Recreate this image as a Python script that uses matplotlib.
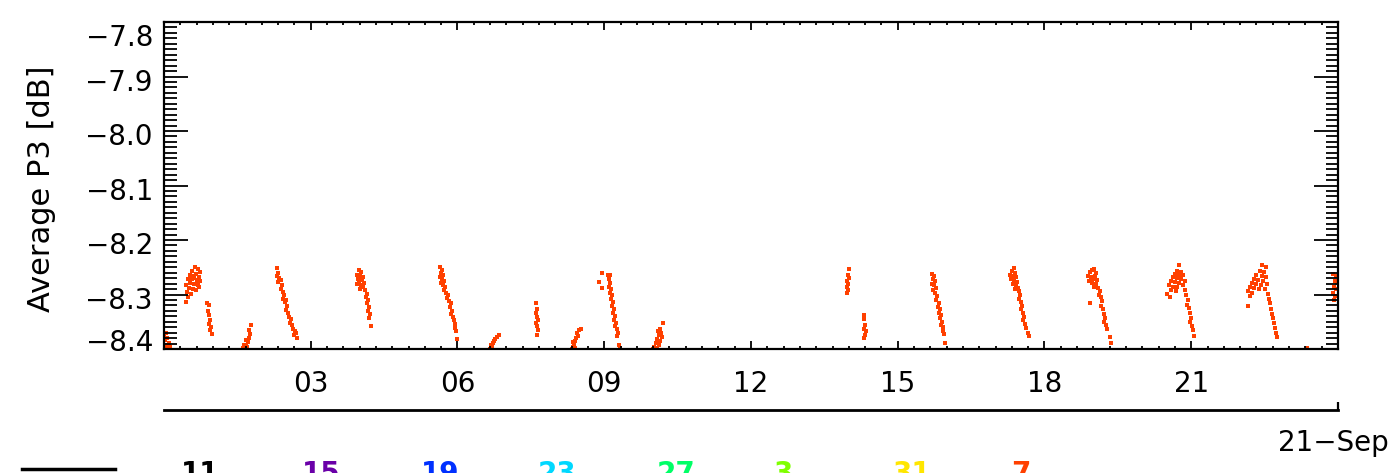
import numpy as np
from matplotlib import pyplot as plt
from matplotlib.lines import Line2D
from matplotlib.transforms import ScaledTranslation

"""
    Dados: (hora do dia, P3 medio em dB), lidos do grafico
"""

pass01 = [(0.00, -8.376), (0.02, -8.383), (0.04, -8.393), (0.06, -8.380), (0.08, -8.398),
          (0.02, -8.400), (0.10, -8.389), (0.12, -8.396), (0.04, -8.370)]
pass02 = [(0.63, -8.250), (0.70, -8.253), (0.57, -8.257), (0.74, -8.259), (0.65, -8.262),
          (0.53, -8.264), (0.61, -8.266), (0.72, -8.268), (0.49, -8.272), (0.57, -8.272),
          (0.67, -8.273), (0.74, -8.275), (0.53, -8.279), (0.61, -8.281), (0.45, -8.283),
          (0.70, -8.283), (0.51, -8.288), (0.59, -8.290), (0.47, -8.295), (0.55, -8.299),
          (0.49, -8.305), (0.45, -8.314), (0.65, -8.292), (0.72, -8.286), (0.59, -8.270),
          (0.68, -8.279)]
pass03 = [(0.88, -8.316), (0.92, -8.320), (0.90, -8.330), (0.92, -8.338), (0.94, -8.347),
          (0.92, -8.355), (0.96, -8.360), (0.94, -8.365), (0.98, -8.372)]
pass04 = [(1.61, -8.398), (1.65, -8.400), (1.67, -8.393), (1.70, -8.396), (1.72, -8.387),
          (1.68, -8.383), (1.74, -8.380), (1.76, -8.372), (1.74, -8.366), (1.78, -8.356),
          (1.63, -8.392)]
pass05 = [(2.31, -8.251), (2.33, -8.260), (2.31, -8.266), (2.35, -8.270), (2.33, -8.277),
          (2.39, -8.273), (2.41, -8.283), (2.39, -8.290), (2.43, -8.295), (2.45, -8.301),
          (2.43, -8.308), (2.47, -8.314), (2.49, -8.310), (2.51, -8.321), (2.49, -8.329),
          (2.53, -8.334), (2.55, -8.341), (2.59, -8.345), (2.57, -8.352), (2.61, -8.356),
          (2.63, -8.363), (2.67, -8.367), (2.65, -8.374), (2.70, -8.370), (2.72, -8.380)]
pass06 = [(3.99, -8.255), (4.03, -8.259), (3.95, -8.264), (4.01, -8.266), (4.07, -8.268),
          (3.97, -8.272), (4.05, -8.273), (3.99, -8.277), (4.09, -8.279), (3.95, -8.281),
          (4.03, -8.283), (4.07, -8.286), (4.01, -8.290), (4.11, -8.292), (4.15, -8.299),
          (4.13, -8.305), (4.17, -8.310), (4.15, -8.316), (4.19, -8.323), (4.17, -8.330),
          (4.21, -8.336), (4.19, -8.343), (4.23, -8.358)]
pass07 = [(5.64, -8.250), (5.68, -8.255), (5.66, -8.261), (5.70, -8.264), (5.64, -8.268),
          (5.68, -8.272), (5.72, -8.275), (5.66, -8.279), (5.70, -8.283), (5.74, -8.286),
          (5.72, -8.292), (5.76, -8.297), (5.81, -8.301), (5.78, -8.306), (5.83, -8.312),
          (5.87, -8.316), (5.85, -8.323), (5.89, -8.330), (5.87, -8.336), (5.91, -8.341),
          (5.93, -8.347), (5.95, -8.354), (5.95, -8.361), (5.97, -8.367), (5.99, -8.382)]
pass08 = [(6.66, -8.400), (6.70, -8.396), (6.68, -8.392), (6.72, -8.389), (6.74, -8.385),
          (6.76, -8.381), (6.80, -8.378), (6.85, -8.375), (6.70, -8.400)]
pass09 = [(7.60, -8.316), (7.62, -8.327), (7.60, -8.334), (7.62, -8.341), (7.64, -8.347),
          (7.60, -8.352), (7.62, -8.358), (7.64, -8.365), (7.62, -8.374)]
pass10 = [(8.34, -8.400), (8.36, -8.396), (8.38, -8.390), (8.40, -8.385), (8.42, -8.380),
          (8.46, -8.376), (8.44, -8.370), (8.48, -8.365), (8.52, -8.363), (8.40, -8.398),
          (8.36, -8.387)]
pass11 = [(8.95, -8.261), (8.89, -8.277), (8.95, -8.288), (9.08, -8.264), (9.12, -8.264),
          (9.10, -8.272), (9.12, -8.279), (9.10, -8.286), (9.14, -8.290), (9.12, -8.297),
          (9.16, -8.301), (9.14, -8.308), (9.18, -8.314), (9.16, -8.321), (9.20, -8.327),
          (9.18, -8.334), (9.22, -8.339), (9.20, -8.347), (9.24, -8.352), (9.22, -8.358),
          (9.26, -8.363), (9.28, -8.370), (9.26, -8.376), (9.30, -8.392), (9.32, -8.398)]
pass12 = [(10.20, -8.352), (10.14, -8.363), (10.10, -8.367), (10.16, -8.370), (10.12, -8.374),
          (10.18, -8.378), (10.08, -8.381), (10.14, -8.385), (10.06, -8.389), (10.12, -8.392),
          (10.02, -8.396), (10.08, -8.398), (10.00, -8.400)]
pass13 = [(14.00, -8.253), (13.98, -8.264), (14.00, -8.270), (13.96, -8.275), (13.98, -8.281),
          (13.96, -8.286), (13.98, -8.292), (13.96, -8.297)]
pass14 = [(14.31, -8.338), (14.31, -8.345), (14.33, -8.356), (14.31, -8.363), (14.35, -8.367),
          (14.33, -8.374), (14.31, -8.380)]
pass15 = [(15.70, -8.262), (15.74, -8.266), (15.72, -8.272), (15.76, -8.275), (15.70, -8.281),
          (15.74, -8.283), (15.78, -8.288), (15.72, -8.292), (15.76, -8.297), (15.80, -8.303),
          (15.78, -8.310), (15.84, -8.316), (15.82, -8.323), (15.86, -8.327), (15.84, -8.334),
          (15.88, -8.338), (15.86, -8.343), (15.90, -8.350), (15.88, -8.356), (15.92, -8.360),
          (15.92, -8.367), (15.94, -8.372), (15.96, -8.389)]
pass16 = [(17.37, -8.251), (17.33, -8.257), (17.39, -8.261), (17.29, -8.264), (17.35, -8.266),
          (17.41, -8.268), (17.31, -8.272), (17.37, -8.273), (17.43, -8.277), (17.35, -8.281),
          (17.41, -8.283), (17.45, -8.288), (17.39, -8.290), (17.47, -8.294), (17.49, -8.301),
          (17.47, -8.308), (17.51, -8.314), (17.54, -8.321), (17.52, -8.327), (17.56, -8.334),
          (17.58, -8.341), (17.56, -8.347), (17.60, -8.354), (17.62, -8.361), (17.66, -8.370),
          (17.68, -8.376)]
pass17 = [(18.97, -8.255), (19.01, -8.253), (18.93, -8.259), (19.05, -8.261), (18.89, -8.266),
          (18.95, -8.268), (19.03, -8.266), (18.99, -8.272), (19.07, -8.273), (18.91, -8.275),
          (18.97, -8.279), (19.05, -8.281), (19.01, -8.286), (19.09, -8.288), (19.13, -8.294),
          (19.11, -8.301), (19.15, -8.305), (18.93, -8.316), (19.17, -8.312), (19.15, -8.321),
          (19.19, -8.327), (19.21, -8.336), (19.23, -8.343), (19.21, -8.350), (19.25, -8.356),
          (19.27, -8.363), (19.34, -8.378), (19.36, -8.389)]
pass18 = [(20.75, -8.246), (20.71, -8.257), (20.79, -8.259), (20.67, -8.262), (20.75, -8.264),
          (20.83, -8.264), (20.63, -8.268), (20.71, -8.270), (20.79, -8.272), (20.59, -8.275),
          (20.67, -8.277), (20.75, -8.279), (20.87, -8.275), (20.55, -8.283), (20.63, -8.286),
          (20.71, -8.286), (20.83, -8.283), (20.59, -8.292), (20.69, -8.294), (20.51, -8.299),
          (20.87, -8.292), (20.57, -8.305), (20.89, -8.301), (20.93, -8.310), (20.91, -8.319),
          (20.95, -8.325), (20.97, -8.334), (20.99, -8.343), (20.97, -8.350), (21.01, -8.358),
          (21.03, -8.365), (21.05, -8.376)]
pass19 = [(22.44, -8.246), (22.53, -8.250), (22.40, -8.257), (22.49, -8.259), (22.32, -8.264),
          (22.44, -8.266), (22.53, -8.268), (22.28, -8.272), (22.36, -8.273), (22.47, -8.275),
          (22.24, -8.279), (22.32, -8.281), (22.42, -8.283), (22.55, -8.281), (22.20, -8.286),
          (22.28, -8.288), (22.38, -8.290), (22.51, -8.290), (22.16, -8.294), (22.24, -8.297),
          (22.57, -8.299), (22.20, -8.303), (22.59, -8.308), (22.16, -8.321), (22.61, -8.316),
          (22.63, -8.327), (22.65, -8.336), (22.67, -8.343), (22.69, -8.352), (22.71, -8.361),
          (22.73, -8.370), (22.75, -8.378)]
pass20 = [(23.36, -8.398), (23.37, -8.400)]
pass21 = [(23.90, -8.262), (23.96, -8.266), (23.94, -8.275), (23.98, -8.279), (23.92, -8.286),
          (23.96, -8.290), (23.90, -8.297), (23.94, -8.303), (23.92, -8.310)]

x_ticks = [3, 6, 9, 12, 15, 18, 21]
x_labels = ['03', '06', '09', '12', '15', '18', '21']
y_ticks = [-7.8, -7.9, -8.0, -8.1, -8.2, -8.3, -8.4]
y_labels = ['\u22127.8', '\u22127.9', '\u22128.0', '\u22128.1', '\u22128.2', '\u22128.3', '\u22128.4']

orbit_names = ['11', '15', '19', '23', '27', '3', '31', '7']
orbit_colors = ['black', '#6a00a8', '#0030ff', '#00d8ff', '#00ff66', '#7fff00', '#ffe600', '#ff4000']
orbit_xpix = [200, 321, 440, 557, 676, 783, 912, 1021]

W, H = 1398, 473


def main():
    plt.rcParams['font.family'] = ['DejaVu Sans']
    fig = plt.figure(figsize=(W / 100, H / 100), dpi=100)

    left, right, top, bottom = 164, 1338, 22, 349
    ax = fig.add_axes([left / W, 1 - bottom / H, (right - left) / W, (bottom - top) / H])

    passes = [pass01, pass02, pass03, pass04, pass05, pass06, pass07, pass08, pass09, pass10,
              pass11, pass12, pass13, pass14, pass15, pass16, pass17, pass18, pass19, pass20, pass21]
    pts = np.array([p for ps in passes for p in ps])
    ax.scatter(pts[:, 0], pts[:, 1], s=5, marker='s', color='#ff4000', linewidths=0)

    ax.set_xlim(0, 24)
    ax.set_ylim(-8.4, -7.8)
    ax.set_xticks(x_ticks)
    ax.set_xticklabels(x_labels)
    ax.set_xticks(np.arange(0, 24, 1 / 3), minor=True)
    ax.set_yticks(y_ticks)
    ax.set_yticklabels(y_labels)
    ax.set_yticks(np.linspace(-8.4, -7.8, 61), minor=True)

    ax.tick_params(axis='both', which='both', direction='in', top=True, right=True, width=1.3)
    ax.tick_params(axis='x', which='major', length=5.5, pad=15, labelsize=20)
    ax.tick_params(axis='x', which='minor', length=2.5)
    ax.tick_params(axis='y', which='major', length=17, pad=8, labelsize=20)
    ax.tick_params(axis='y', which='minor', length=9)
    for s in ax.spines.values():
        s.set_linewidth(1.6)

    # ajuste vertical dos rotulos (estilo IDL)
    dy = {0: -13, 6: 9}
    for i, lab in enumerate(ax.get_yticklabels()):
        off = dy.get(i, -3)
        lab.set_transform(lab.get_transform() + ScaledTranslation(0, off / 100, fig.dpi_scale_trans))

    fig.text(42 / W, 1 - 189 / H, 'Average P3 [dB]', rotation=90, ha='center', va='center', fontsize=22)

    # eixo da data
    ax2 = fig.add_axes([left / W, 1 - 410 / H, (right - left) / W, 0.0001])
    ax2.set_xlim(0, 24)
    ax2.set_yticks([])
    ax2.set_xticks([24])
    ax2.set_xticklabels([])
    ax2.tick_params(axis='x', direction='in', length=6, width=1.6)
    for k in ['top', 'left', 'right']:
        ax2.spines[k].set_visible(False)
    ax2.spines['bottom'].set_linewidth(2)
    ax2.patch.set_visible(False)

    fig.text(1278 / W, 1 - 443 / H, '21\u2212Sep', ha='left', va='center', fontsize=20)

    # legenda de orbitas (cortada embaixo)
    fig.add_artist(Line2D([22 / W, 115 / W], [1 - 469 / H, 1 - 469 / H], color='black', lw=2.5))
    for name, c, xp in zip(orbit_names, orbit_colors, orbit_xpix):
        fig.text(xp / W, 1 - 460 / H, name, color=c, ha='center', va='top', fontsize=20, fontweight='bold')

    fig.savefig('out.png', dpi=100)


if __name__ == '__main__':
    main()
